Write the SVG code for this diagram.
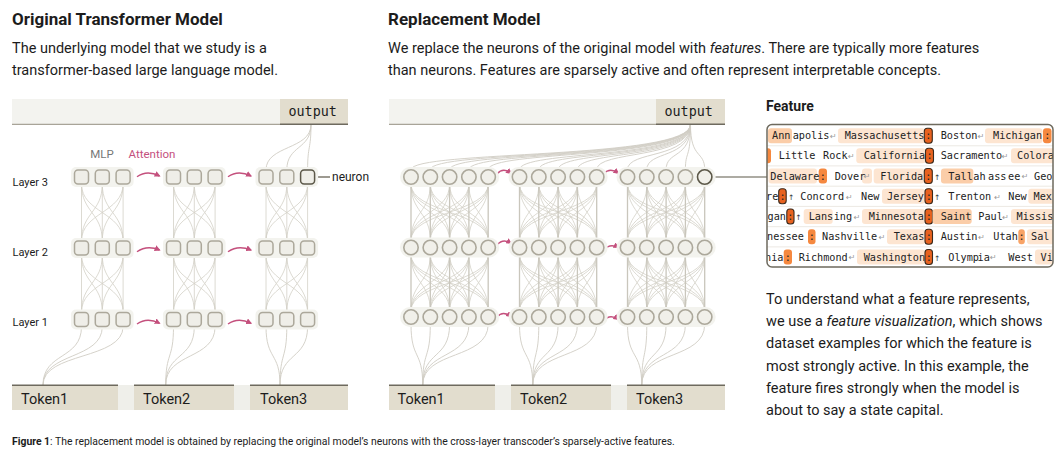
<svg xmlns="http://www.w3.org/2000/svg" xmlns:xlink="http://www.w3.org/1999/xlink" width="1064" height="457" viewBox="0 0 1064 457">
<style>
text{font-family:Roboto,"Liberation Sans",sans-serif;fill:#1c1c1c}
.title{font-size:17px;font-weight:bold}
.body{font-size:14.5px}
.lbl{font-size:11px}
.mono{font-family:"DejaVu Sans Mono","Liberation Mono",monospace}
.out{font-size:13.4px}
.tok{font-size:14.5px}
.conn{fill:none;stroke:#d3d0c7;stroke-width:0.8}
.vert{fill:none;stroke:#c9c6bc;stroke-width:1.3}
.io{fill:none;stroke:#d0cdc4;stroke-width:0.9}
.sq{fill:#efeee8;stroke:#aca89b;stroke-width:1.5}
.cir{fill:#f1f0ea;stroke:#aca89b;stroke-width:1.6}
.pill{fill:#f3f3ee}
.attn{fill:none;stroke:#c4507d;stroke-width:1.4;marker-end:url(#ah)}
.dark{stroke:#5c5849}
.ft{font-family:"DejaVu Sans Mono","Liberation Mono",monospace;font-size:10.2px;fill:#222}
.ret{font-family:"DejaVu Sans",sans-serif;font-size:8px;fill:#9a9a9a}
.up{font-family:"DejaVu Sans",sans-serif;font-size:7.5px;fill:#333}
.hl{fill:#fde5d1}
.hm{fill:#fbcda8}
.ho{fill:#f5883f}
.hd{fill:#e8621f;stroke:#3b2a1c;stroke-width:1.1}
.sep{stroke:#ece9e3;stroke-width:1}
</style>
<defs>
<marker id="ah" viewBox="0 0 10 10" refX="8" refY="5" markerWidth="6" markerHeight="6" markerUnits="userSpaceOnUse" orient="auto"><path d="M0 0L10 5L0 10z" fill="#c4507d"/></marker>
<path id="lb" d="M0 0V57M0 0C0 28.5 20.8 28.5 20.8 57M0 0C0 28.5 41.6 28.5 41.6 57M20.8 0C20.8 28.5 0 28.5 0 57M20.8 0V57M20.8 0C20.8 28.5 41.6 28.5 41.6 57M41.6 0C41.6 28.5 0 28.5 0 57M41.6 0C41.6 28.5 20.8 28.5 20.8 57M41.6 0V57"/>
<g id="mb">
<path class="conn" d="M0 0C0 28 19.3 28 19.3 56M0 0C0 28 38.6 28 38.6 56M0 0C0 28 57.9 28 57.9 56M0 0C0 28 77.2 28 77.2 56M19.3 0C19.3 28 0 28 0 56M19.3 0C19.3 28 38.6 28 38.6 56M19.3 0C19.3 28 57.9 28 57.9 56M19.3 0C19.3 28 77.2 28 77.2 56M38.6 0C38.6 28 0 28 0 56M38.6 0C38.6 28 19.3 28 19.3 56M38.6 0C38.6 28 57.9 28 57.9 56M38.6 0C38.6 28 77.2 28 77.2 56M57.9 0C57.9 28 0 28 0 56M57.9 0C57.9 28 19.3 28 19.3 56M57.9 0C57.9 28 38.6 28 38.6 56M57.9 0C57.9 28 77.2 28 77.2 56M77.2 0C77.2 28 0 28 0 56M77.2 0C77.2 28 19.3 28 19.3 56M77.2 0C77.2 28 38.6 28 38.6 56M77.2 0C77.2 28 57.9 28 57.9 56"/>
<path class="vert" d="M0 0V56M19.3 0V56M38.6 0V56M57.9 0V56M77.2 0V56"/>
</g>
<clipPath id="fclip"><rect x="767" y="124.5" width="286" height="142.5" rx="5"/></clipPath>
</defs>

<rect width="1064" height="457" fill="#ffffff"/>

<!-- Texts -->
<text class="title" x="12" y="25">Original Transformer Model</text>
<text class="body" x="12" y="53">The underlying model that we study is a</text>
<text class="body" x="12" y="75">transformer-based large language model.</text>
<text class="title" x="388" y="25">Replacement Model</text>
<text class="body" x="388" y="53">We replace the neurons of the original model with <tspan font-style="italic">features</tspan>. There are typically more features</text>
<text class="body" x="388" y="75">than neurons. Features are sparsely active and often represent interpretable concepts.</text>
<text x="766" y="111" font-size="14" font-weight="bold">Feature</text>
<text class="body" x="766" y="304">To understand what a feature represents,</text>
<text class="body" x="766" y="326">we use a <tspan font-style="italic">feature visualization</tspan>, which shows</text>
<text class="body" x="766" y="348">dataset examples for which the feature is</text>
<text class="body" x="766" y="371">most strongly active. In this example, the</text>
<text class="body" x="766" y="393">feature fires strongly when the model is</text>
<text class="body" x="766" y="415">about to say a state capital.</text>
<text x="12" y="445" font-size="10.4"><tspan font-weight="bold">Figure 1</tspan>: The replacement model is obtained by replacing the original model’s neurons with the cross-layer transcoder’s sparsely-active features.</text>

<text class="lbl" x="12.5" y="185.5">Layer 3</text>
<text class="lbl" x="12.5" y="255.5">Layer 2</text>
<text class="lbl" x="12.5" y="325.5">Layer 1</text>
<text x="102" y="158" font-size="11.5" text-anchor="middle" style="fill:#777">MLP</text>
<text x="128.5" y="158" font-size="11.5" style="fill:#c4507d">Attention</text>

<!-- Connectors -->
<g id="connectors">
<g class="conn">
<use href="#lb" x="81.5" y="184"/><use href="#lb" x="173.5" y="184"/><use href="#lb" x="266" y="184"/>
<use href="#lb" x="81.5" y="255"/><use href="#lb" x="173.5" y="255"/><use href="#lb" x="266" y="255"/>
</g>
<use href="#mb" x="411" y="184.2"/><use href="#mb" x="519.5" y="184.2"/><use href="#mb" x="627.5" y="184.2"/>
<use href="#mb" x="411" y="254.7"/><use href="#mb" x="519.5" y="254.7"/><use href="#mb" x="627.5" y="254.7"/>
<path class="io" d="M43 385C43 352 81.5 360 81.5 326.5M43 385C43 352 102.3 360 102.3 326.5M43 385C43 352 123.1 360 123.1 326.5M165.7 385C165.7 352 173.5 360 173.5 326.5M165.7 385C165.7 352 194.3 360 194.3 326.5M165.7 385C165.7 352 215.1 360 215.1 326.5M280 385C280 352 266 360 266 326.5M280 385C280 352 286.8 360 286.8 326.5M280 385C280 352 307.6 360 307.6 326.5"/>
<path class="io" d="M311 124.5C311 150 266 145 266 170M311 124.5C311 150 286.8 145 286.8 170M311 124.5C311 150 307.6 145 307.6 170"/>
<path class="io" d="M422.7 385C422.7 350 411 360 411 324.2M422.7 385C422.7 350 430.3 360 430.3 324.2M422.7 385C422.7 350 449.6 360 449.6 324.2M422.7 385C422.7 350 468.9 360 468.9 324.2M422.7 385C422.7 350 488.2 360 488.2 324.2M532.7 385C532.7 350 519.5 360 519.5 324.2M532.7 385C532.7 350 538.8 360 538.8 324.2M532.7 385C532.7 350 558.1 360 558.1 324.2M532.7 385C532.7 350 577.4 360 577.4 324.2M532.7 385C532.7 350 596.7 360 596.7 324.2M641.7 385C641.7 350 627.5 360 627.5 324.2M641.7 385C641.7 350 646.8 360 646.8 324.2M641.7 385C641.7 350 666.1 360 666.1 324.2M641.7 385C641.7 350 685.4 360 685.4 324.2M641.7 385C641.7 350 704.7 360 704.7 324.2"/>
<path class="io" d="M690.5 124.5C690.5 160 411 150 411 169.8M690.5 124.5C690.5 160 430.3 150 430.3 169.8M690.5 124.5C690.5 160 449.6 150 449.6 169.8M690.5 124.5C690.5 160 468.9 150 468.9 169.8M690.5 124.5C690.5 160 488.2 150 488.2 169.8M690.5 124.5C690.5 160 519.5 150 519.5 169.8M690.5 124.5C690.5 160 538.8 150 538.8 169.8M690.5 124.5C690.5 160 558.1 150 558.1 169.8M690.5 124.5C690.5 160 577.4 150 577.4 169.8M690.5 124.5C690.5 160 596.7 150 596.7 169.8M690.5 124.5C690.5 160 627.5 150 627.5 169.8M690.5 124.5C690.5 160 646.8 150 646.8 169.8M690.5 124.5C690.5 160 666.1 150 666.1 169.8M690.5 124.5C690.5 160 685.4 150 685.4 169.8M690.5 124.5C690.5 160 704.7 150 704.7 169.8"/>
<!-- attention arrows -->
<path class="attn" d="M137 176.7Q147 169.7 159.5 176"/>
<path class="attn" d="M228 176.7Q238 169.7 251 176"/>
<path class="attn" d="M137 251.7Q147 244.7 159.5 250"/>
<path class="attn" d="M228 251.7Q238 244.7 251 250"/>
<path class="attn" d="M137 324Q147 317 159.5 323.3"/>
<path class="attn" d="M228 324Q238 317 251 323.3"/>
<path class="attn" d="M497 174Q503 167 511 173.3"/>
<path class="attn" d="M603.5 174Q610 167 618.3 173.3"/>
<path class="attn" d="M497 245Q503 238 511 243.3"/>
<path class="attn" d="M603.5 250Q610 243 618.3 247.5"/>
<path class="attn" d="M497 317Q503 310 511 316.7"/>
<path class="attn" d="M603.5 320.5Q610 313.5 618.3 319.3"/>
<!-- neuron / feature pointers -->
<path d="M314.6 177H330" stroke="#5c5849" stroke-width="1.2"/>
<path d="M711.9 177H767" stroke="#5c5849" stroke-width="1.2"/>
</g>

<!-- Output bars -->
<g id="out-left">
<rect x="12" y="99" width="336" height="25" fill="#f3f3ef"/>
<rect x="280" y="99" width="68" height="25" fill="#e2ddce"/>
<path d="M12 124.3H280" stroke="#a8a498" stroke-width="1.2"/>
<path d="M280 124.3H348" stroke="#6e6a5e" stroke-width="1.6"/>
<text class="mono out" x="288.5" y="116">output</text>
</g>
<g id="out-mid">
<rect x="389" y="99" width="336" height="25" fill="#f3f3ef"/>
<rect x="656" y="99" width="69" height="25" fill="#e2ddce"/>
<path d="M389 124.3H656" stroke="#a8a498" stroke-width="1.2"/>
<path d="M656 124.3H725" stroke="#6e6a5e" stroke-width="1.6"/>
<text class="mono out" x="664.5" y="116">output</text>
</g>

<!-- Token bars -->
<g id="tokens-left">
<rect x="12" y="385" width="336" height="25" fill="#efefea"/>
<rect x="12" y="385" width="106" height="25" fill="#e2ddce"/>
<rect x="134" y="385" width="100" height="25" fill="#e2ddce"/>
<rect x="250" y="385" width="98" height="25" fill="#e2ddce"/>
<path d="M12 385.3H118M134 385.3H234M250 385.3H348" stroke="#6e6a5e" stroke-width="1.6"/>
<text class="tok" x="21" y="404">Token1</text>
<text class="tok" x="143" y="404">Token2</text>
<text class="tok" x="260" y="404">Token3</text>
</g>
<g id="tokens-mid">
<rect x="389" y="385" width="336" height="25" fill="#efefea"/>
<rect x="389" y="385" width="106" height="25" fill="#e2ddce"/>
<rect x="511" y="385" width="100" height="25" fill="#e2ddce"/>
<rect x="627" y="385" width="98" height="25" fill="#e2ddce"/>
<path d="M389 385.3H495M511 385.3H611M627 385.3H725" stroke="#6e6a5e" stroke-width="1.6"/>
<text class="tok" x="397.5" y="404">Token1</text>
<text class="tok" x="520" y="404">Token2</text>
<text class="tok" x="636" y="404">Token3</text>
</g>

<!-- Left MLP nodes -->
<g id="L3-T1"><rect class="pill" x="71" y="167" width="62.6" height="20" rx="5"/><rect class="sq" x="74.5" y="170" width="14" height="14" rx="3.5"/><rect class="sq" x="95.3" y="170" width="14" height="14" rx="3.5"/><rect class="sq" x="116.1" y="170" width="14" height="14" rx="3.5"/></g>
<g id="L3-T2"><rect class="pill" x="163" y="167" width="62.6" height="20" rx="5"/><rect class="sq" x="166.5" y="170" width="14" height="14" rx="3.5"/><rect class="sq" x="187.3" y="170" width="14" height="14" rx="3.5"/><rect class="sq" x="208.1" y="170" width="14" height="14" rx="3.5"/></g>
<g id="L3-T3"><rect class="pill" x="255.5" y="167" width="62.6" height="20" rx="5"/><rect class="sq" x="259" y="170" width="14" height="14" rx="3.5"/><rect class="sq" x="279.8" y="170" width="14" height="14" rx="3.5"/><rect class="sq dark" x="300.6" y="170" width="14" height="14" rx="3.5"/></g>
<g id="L2-T1"><rect class="pill" x="71" y="238" width="62.6" height="20" rx="5"/><rect class="sq" x="74.5" y="241" width="14" height="14" rx="3.5"/><rect class="sq" x="95.3" y="241" width="14" height="14" rx="3.5"/><rect class="sq" x="116.1" y="241" width="14" height="14" rx="3.5"/></g>
<g id="L2-T2"><rect class="pill" x="163" y="238" width="62.6" height="20" rx="5"/><rect class="sq" x="166.5" y="241" width="14" height="14" rx="3.5"/><rect class="sq" x="187.3" y="241" width="14" height="14" rx="3.5"/><rect class="sq" x="208.1" y="241" width="14" height="14" rx="3.5"/></g>
<g id="L2-T3"><rect class="pill" x="255.5" y="238" width="62.6" height="20" rx="5"/><rect class="sq" x="259" y="241" width="14" height="14" rx="3.5"/><rect class="sq" x="279.8" y="241" width="14" height="14" rx="3.5"/><rect class="sq" x="300.6" y="241" width="14" height="14" rx="3.5"/></g>
<g id="L1-T1"><rect class="pill" x="71" y="309.5" width="62.6" height="20" rx="5"/><rect class="sq" x="74.5" y="312.5" width="14" height="14" rx="3.5"/><rect class="sq" x="95.3" y="312.5" width="14" height="14" rx="3.5"/><rect class="sq" x="116.1" y="312.5" width="14" height="14" rx="3.5"/></g>
<g id="L1-T2"><rect class="pill" x="163" y="309.5" width="62.6" height="20" rx="5"/><rect class="sq" x="166.5" y="312.5" width="14" height="14" rx="3.5"/><rect class="sq" x="187.3" y="312.5" width="14" height="14" rx="3.5"/><rect class="sq" x="208.1" y="312.5" width="14" height="14" rx="3.5"/></g>
<g id="L1-T3"><rect class="pill" x="255.5" y="309.5" width="62.6" height="20" rx="5"/><rect class="sq" x="259" y="312.5" width="14" height="14" rx="3.5"/><rect class="sq" x="279.8" y="312.5" width="14" height="14" rx="3.5"/><rect class="sq" x="300.6" y="312.5" width="14" height="14" rx="3.5"/></g>
<text x="332" y="181" font-size="12">neuron</text>

<!-- Replacement model feature nodes -->
<g id="R3-T1"><rect class="pill" x="400" y="167" width="99.2" height="20" rx="10"/><circle class="cir" cx="411" cy="177" r="7.2"/><circle class="cir" cx="430.3" cy="177" r="7.2"/><circle class="cir" cx="449.6" cy="177" r="7.2"/><circle class="cir" cx="468.9" cy="177" r="7.2"/><circle class="cir" cx="488.2" cy="177" r="7.2"/></g>
<g id="R3-T2"><rect class="pill" x="508.5" y="167" width="99.2" height="20" rx="10"/><circle class="cir" cx="519.5" cy="177" r="7.2"/><circle class="cir" cx="538.8" cy="177" r="7.2"/><circle class="cir" cx="558.1" cy="177" r="7.2"/><circle class="cir" cx="577.4" cy="177" r="7.2"/><circle class="cir" cx="596.7" cy="177" r="7.2"/></g>
<g id="R3-T3"><rect class="pill" x="616.5" y="167" width="99.2" height="20" rx="10"/><circle class="cir" cx="627.5" cy="177" r="7.2"/><circle class="cir" cx="646.8" cy="177" r="7.2"/><circle class="cir" cx="666.1" cy="177" r="7.2"/><circle class="cir" cx="685.4" cy="177" r="7.2"/><circle class="cir dark" cx="704.7" cy="177" r="7.2"/></g>
<g id="R2-T1"><rect class="pill" x="400" y="237.5" width="99.2" height="20" rx="10"/><circle class="cir" cx="411" cy="247.5" r="7.2"/><circle class="cir" cx="430.3" cy="247.5" r="7.2"/><circle class="cir" cx="449.6" cy="247.5" r="7.2"/><circle class="cir" cx="468.9" cy="247.5" r="7.2"/><circle class="cir" cx="488.2" cy="247.5" r="7.2"/></g>
<g id="R2-T2"><rect class="pill" x="508.5" y="237.5" width="99.2" height="20" rx="10"/><circle class="cir" cx="519.5" cy="247.5" r="7.2"/><circle class="cir" cx="538.8" cy="247.5" r="7.2"/><circle class="cir" cx="558.1" cy="247.5" r="7.2"/><circle class="cir" cx="577.4" cy="247.5" r="7.2"/><circle class="cir" cx="596.7" cy="247.5" r="7.2"/></g>
<g id="R2-T3"><rect class="pill" x="616.5" y="237.5" width="99.2" height="20" rx="10"/><circle class="cir" cx="627.5" cy="247.5" r="7.2"/><circle class="cir" cx="646.8" cy="247.5" r="7.2"/><circle class="cir" cx="666.1" cy="247.5" r="7.2"/><circle class="cir" cx="685.4" cy="247.5" r="7.2"/><circle class="cir" cx="704.7" cy="247.5" r="7.2"/></g>
<g id="R1-T1"><rect class="pill" x="400" y="307" width="99.2" height="20" rx="10"/><circle class="cir" cx="411" cy="317" r="7.2"/><circle class="cir" cx="430.3" cy="317" r="7.2"/><circle class="cir" cx="449.6" cy="317" r="7.2"/><circle class="cir" cx="468.9" cy="317" r="7.2"/><circle class="cir" cx="488.2" cy="317" r="7.2"/></g>
<g id="R1-T2"><rect class="pill" x="508.5" y="307" width="99.2" height="20" rx="10"/><circle class="cir" cx="519.5" cy="317" r="7.2"/><circle class="cir" cx="538.8" cy="317" r="7.2"/><circle class="cir" cx="558.1" cy="317" r="7.2"/><circle class="cir" cx="577.4" cy="317" r="7.2"/><circle class="cir" cx="596.7" cy="317" r="7.2"/></g>
<g id="R1-T3"><rect class="pill" x="616.5" y="307" width="99.2" height="20" rx="10"/><circle class="cir" cx="627.5" cy="317" r="7.2"/><circle class="cir" cx="646.8" cy="317" r="7.2"/><circle class="cir" cx="666.1" cy="317" r="7.2"/><circle class="cir" cx="685.4" cy="317" r="7.2"/><circle class="cir" cx="704.7" cy="317" r="7.2"/></g>

<!-- Feature visualization -->
<g id="feature-box">
<rect x="767" y="124.5" width="286" height="142.5" rx="5" fill="#ffffff"/>
<g clip-path="url(#fclip)">
<path class="sep" d="M767 145.8H1053M767 165.9H1053M767 186.2H1053M767 206.4H1053M767 226.7H1053M767 246.9H1053"/>
<!-- row 1 -->
<rect class="hm" x="768" y="128.2" width="24" height="15" rx="3"/>
<rect class="hl" x="838" y="128.2" width="87" height="15" rx="3"/>
<rect class="hd" x="924.3" y="128.2" width="8" height="15" rx="3"/>
<rect class="hl" x="985" y="128.2" width="57.5" height="15" rx="3"/>
<rect class="ho" x="1043" y="128.2" width="8.5" height="15" rx="3"/>
<text class="ft" x="772" y="139.2">Ann</text><text class="ft" x="792.7" y="139.2">apolis</text><text class="ret" x="830" y="139">↵</text>
<text class="ft" x="844.7" y="139.2">Massachusetts</text><text class="ft" x="928.3" y="139.2" text-anchor="middle">:</text>
<text class="ft" x="940.7" y="139.2">Boston</text><text class="ret" x="977.7" y="139">↵</text>
<text class="ft" x="993" y="139.2">Michigan</text><text class="ft" x="1047.2" y="139.2" text-anchor="middle">:</text>
<!-- row 2 -->
<rect class="ho" x="763" y="148.3" width="8" height="15" rx="3"/>
<rect class="hl" x="856.3" y="148.3" width="69.4" height="15" rx="3"/>
<rect class="hd" x="925.5" y="148.3" width="8" height="15" rx="3"/>
<rect class="hl" x="1011" y="148.3" width="50" height="15" rx="3"/>
<text class="ft" x="778.7" y="159.3">Little</text><text class="ft" x="823" y="159.3">Rock</text><text class="ret" x="848" y="159.1">↵</text>
<text class="ft" x="863.7" y="159.3">California</text><text class="ft" x="929.5" y="159.3" text-anchor="middle">:</text>
<text class="ft" x="940.7" y="159.3">Sacramento</text><text class="ret" x="1001.7" y="159.1">↵</text>
<text class="ft" x="1017" y="159.3">Colora</text>
<!-- row 3 -->
<rect class="hl" x="768.5" y="168.5" width="48.5" height="15" rx="3"/>
<rect class="ho" x="818.7" y="168.5" width="8.3" height="15" rx="3"/>
<rect class="hl" x="862" y="168.5" width="10" height="15" rx="3"/>
<rect class="hl" x="873.7" y="168.5" width="50.6" height="15" rx="3"/>
<rect class="hd" x="924.3" y="168.5" width="8" height="15" rx="3"/>
<rect class="hm" x="941" y="168.5" width="32.3" height="15" rx="3"/>
<text class="ft" x="770.3" y="179.5">Delaware</text><text class="ft" x="822.8" y="179.5" text-anchor="middle">:</text>
<text class="ft" x="834.7" y="179.5">Dover</text><text class="ret" x="863.7" y="179.3">↵</text>
<text class="ft" x="880.3" y="179.5">Florida</text><text class="ft" x="928.3" y="179.5" text-anchor="middle">:</text><text class="up" x="934" y="179.5">↑</text>
<text class="ft" x="948.3" y="179.5">Tall</text><text class="ft" x="973.3" y="179.5">ah</text><text class="ft" x="988" y="179.5">ass</text><text class="ft" x="1008" y="179.5">ee</text><text class="ret" x="1021.7" y="179.3">↵</text>
<text class="ft" x="1034" y="179.5">Geo</text>
<!-- row 4 -->
<rect class="hd" x="778.7" y="188.8" width="7.5" height="15" rx="3"/>
<rect class="hl" x="882" y="188.8" width="43" height="15" rx="3"/>
<rect class="hd" x="925" y="188.8" width="7.5" height="15" rx="3"/>
<rect class="hl" x="1028.3" y="188.8" width="32" height="15" rx="3"/>
<text class="ft" x="766" y="199.8">re</text><text class="ft" x="782.5" y="199.8" text-anchor="middle">:</text><text class="up" x="788" y="199.8">↑</text>
<text class="ft" x="800.3" y="199.8">Conc</text><text class="ft" x="825.7" y="199.8">ord</text><text class="ret" x="846" y="199.6">↵</text>
<text class="ft" x="861" y="199.8">New</text><text class="ft" x="887" y="199.8">Jersey</text><text class="ft" x="928.7" y="199.8" text-anchor="middle">:</text><text class="up" x="934" y="199.8">↑</text>
<text class="ft" x="948.3" y="199.8">Trenton</text><text class="ret" x="994.3" y="199.6">↵</text>
<text class="ft" x="1008.3" y="199.8">New</text><text class="ft" x="1033.5" y="199.8">Mex</text>
<!-- row 5 -->
<rect class="hd" x="786.8" y="209" width="7.2" height="15" rx="3"/>
<rect class="hl" x="803.7" y="209" width="29" height="15" rx="3"/>
<rect class="hl" x="862" y="209" width="63" height="15" rx="3"/>
<rect class="hd" x="925" y="209" width="7.5" height="15" rx="3"/>
<rect class="hm" x="932.5" y="209" width="39.2" height="15" rx="3"/>
<rect class="hl" x="1011" y="209" width="50" height="15" rx="3"/>
<text class="ft" x="767.5" y="220">gan</text><text class="ft" x="790.4" y="220" text-anchor="middle">:</text><text class="up" x="795.3" y="220">↑</text>
<text class="ft" x="808.7" y="220">Lans</text><text class="ft" x="833.7" y="220">ing</text><text class="ret" x="853.7" y="219.8">↵</text>
<text class="ft" x="868.7" y="220">Minnesota</text><text class="ft" x="928.7" y="220" text-anchor="middle">:</text>
<text class="ft" x="940.7" y="220">Saint</text><text class="ft" x="978.3" y="220">Paul</text><text class="ret" x="1002.3" y="219.8">↵</text>
<text class="ft" x="1016.5" y="220">Missis</text>
<!-- row 6 -->
<rect class="ho" x="808" y="229.3" width="7.5" height="15" rx="3"/>
<rect class="hl" x="887" y="229.3" width="38" height="15" rx="3"/>
<rect class="hd" x="925" y="229.3" width="7.5" height="15" rx="3"/>
<rect class="ho" x="1018.3" y="229.3" width="6.5" height="15" rx="3" style="fill:#f8a366"/>
<rect class="hl" x="1027" y="229.3" width="33" height="15" rx="3"/>
<text class="ft" x="767" y="240.3">nessee</text><text class="ft" x="811.7" y="240.3" text-anchor="middle">:</text>
<text class="ft" x="822" y="240.3">Nashville</text><text class="ret" x="878.7" y="240.1">↵</text>
<text class="ft" x="893.7" y="240.3">Texas</text><text class="ft" x="928.7" y="240.3" text-anchor="middle">:</text>
<text class="ft" x="940.7" y="240.3">Austin</text><text class="ret" x="978.3" y="240.1">↵</text>
<text class="ft" x="993.3" y="240.3">Utah</text><text class="ft" x="1021.5" y="240.3" text-anchor="middle">:</text>
<text class="ft" x="1031" y="240.3">Sal</text>
<!-- row 7 -->
<rect class="ho" x="783.7" y="249.5" width="8.3" height="15" rx="3"/>
<rect class="hl" x="857" y="249.5" width="68" height="15" rx="3"/>
<rect class="hd" x="925" y="249.5" width="7.5" height="15" rx="3"/>
<rect class="hl" x="1035" y="249.5" width="25" height="15" rx="3"/>
<text class="ft" x="765" y="260.5">nia</text><text class="ft" x="787.8" y="260.5" text-anchor="middle">:</text>
<text class="ft" x="798.7" y="260.5">Richmond</text><text class="ret" x="848.7" y="260.3">↵</text>
<text class="ft" x="863.7" y="260.5">Washington</text><text class="ft" x="928.7" y="260.5" text-anchor="middle">:</text><text class="up" x="934" y="260.5">↑</text>
<text class="ft" x="948.3" y="260.5">Olymp</text><text class="ft" x="977.5" y="260.5">ia</text><text class="ret" x="990" y="260.3">↵</text>
<text class="ft" x="1008.3" y="260.5">West</text><text class="ft" x="1040.5" y="260.5">Vi</text>
</g>
<rect x="767" y="124.5" width="286" height="142.5" rx="5" fill="none" stroke="#6e6a5e" stroke-width="1.5"/>
</g>
</svg>
